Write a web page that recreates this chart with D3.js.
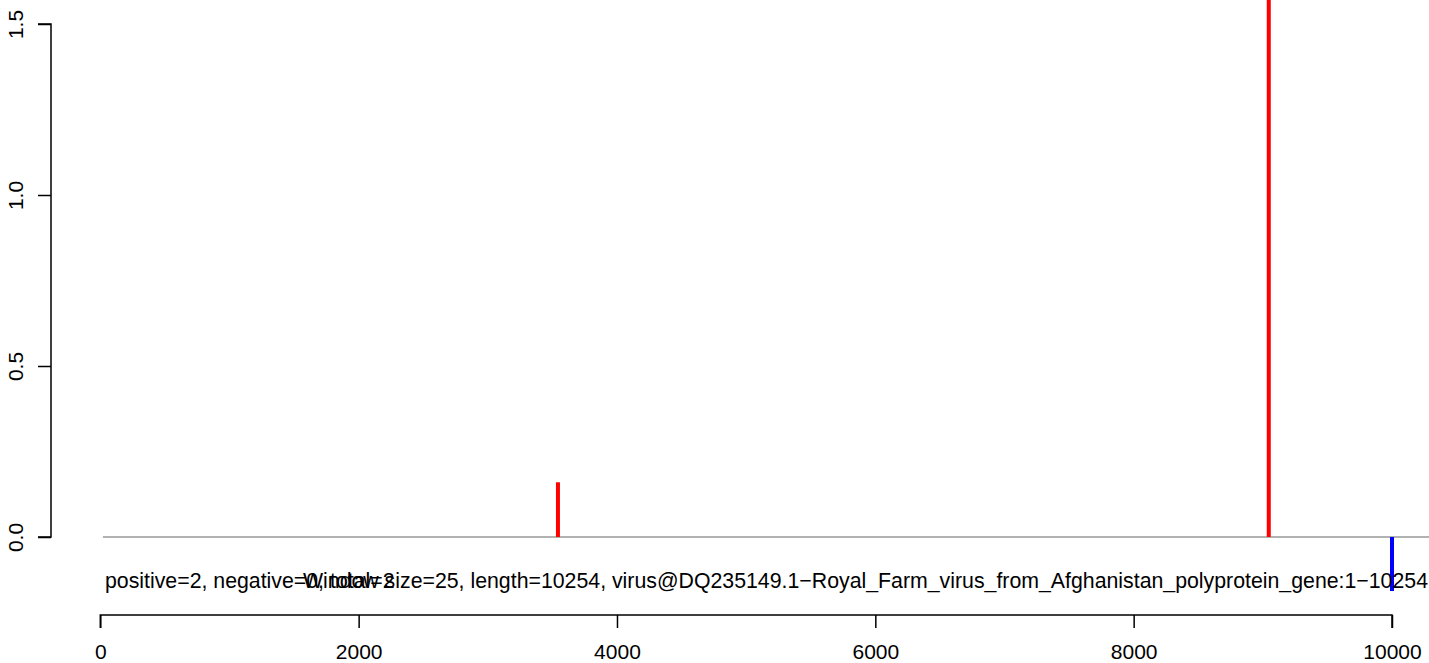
<!DOCTYPE html>
<html><head><meta charset="utf-8">
<script src="https://cdn.jsdelivr.net/npm/d3@7"></script>
<style>html,body{margin:0;padding:0;background:#fff;overflow:hidden}</style>
</head><body>
<script>
// Data
const posPositions = [3543, 9046];
const posValues = [0.16, 1.6];
const negPositions = [10000];
const negValues = [-0.158];
const baselineRange = [20, 10290];
const xTicks = [0, 2000, 4000, 6000, 8000, 10000];
const yTicks = [0.0, 0.5, 1.0, 1.5];
const yTickLabels = ["0.0", "0.5", "1.0", "1.5"];
const summaryText = "positive=2, negative=0, total=2";
const infoText = "Window size=25, length=10254, virus@DQ235149.1\u2212Royal_Farm_virus_from_Afghanistan_polyprotein_gene:1\u221210254";

const W = 1429, H = 663;
const font = "'Liberation Sans', Arial, sans-serif";
const fs = 21;
const fsText = 21.3;

const svg = d3.select("body").append("svg").attr("width", W).attr("height", H)
  .style("font-family", font);

const x = d3.scaleLinear().domain([0, 10000]).range([100.3, 1392]);
const y = d3.scaleLinear().domain([0, 1.5]).range([537, 24]);

// baseline
svg.append("line")
  .attr("x1", x(baselineRange[0])).attr("x2", x(baselineRange[1]))
  .attr("y1", y(0)).attr("y2", y(0))
  .attr("stroke", "#999").attr("stroke-width", 1.5);

// positive bars
svg.selectAll(".pos").data(posPositions.map((p, i) => ({p, v: posValues[i]})))
  .enter().append("line")
  .attr("x1", d => x(d.p)).attr("x2", d => x(d.p))
  .attr("y1", y(0)).attr("y2", d => y(d.v))
  .attr("stroke", "#ff0000").attr("stroke-width", 4);

// negative bars
svg.selectAll(".neg").data(negPositions.map((p, i) => ({p, v: negValues[i]})))
  .enter().append("line")
  .attr("x1", d => x(d.p)).attr("x2", d => x(d.p))
  .attr("y1", y(0)).attr("y2", d => y(d.v))
  .attr("stroke", "#0000ff").attr("stroke-width", 4);

// texts
svg.append("text").attr("x", 105).attr("y", 588)
  .attr("font-size", fsText).attr("fill", "#000").text(summaryText);
svg.append("text").attr("x", 1428).attr("y", 588).attr("text-anchor", "end")
  .attr("font-size", fsText).attr("fill", "#000").text(infoText);

// x axis
const xAxis = d3.axisBottom(x).tickValues(xTicks).tickSize(13).tickPadding(16)
  .tickFormat(d3.format("d"));
const gx = svg.append("g").attr("transform", "translate(0,615)").call(xAxis);
gx.select(".domain").attr("stroke", "#000").attr("stroke-width", 1.5)
  .attr("d", `M${x(0)},13V0H${x(10000)}V13`);
gx.selectAll(".tick line").attr("stroke", "#000").attr("stroke-width", 1.5);
gx.selectAll(".tick text").attr("font-size", fs).attr("font-family", font).attr("fill", "#000");

// y axis
const yAxis = d3.axisLeft(y).tickValues(yTicks).tickSize(13).tickPadding(0)
  .tickFormat((d, i) => yTickLabels[i]);
const gy = svg.append("g").attr("transform", "translate(51,0)").call(yAxis);
gy.select(".domain").attr("stroke", "#000").attr("stroke-width", 1.5)
  .attr("d", `M-13,${y(0)}H0V${y(1.5)}H-13`);
gy.selectAll(".tick line").attr("stroke", "#000").attr("stroke-width", 1.5);
gy.selectAll(".tick text").attr("font-size", fs).attr("font-family", font).attr("fill", "#000")
  .attr("text-anchor", "middle").attr("dy", null).attr("x", null)
  .attr("transform", "translate(-28,0) rotate(-90)");
</script>
</body></html>
